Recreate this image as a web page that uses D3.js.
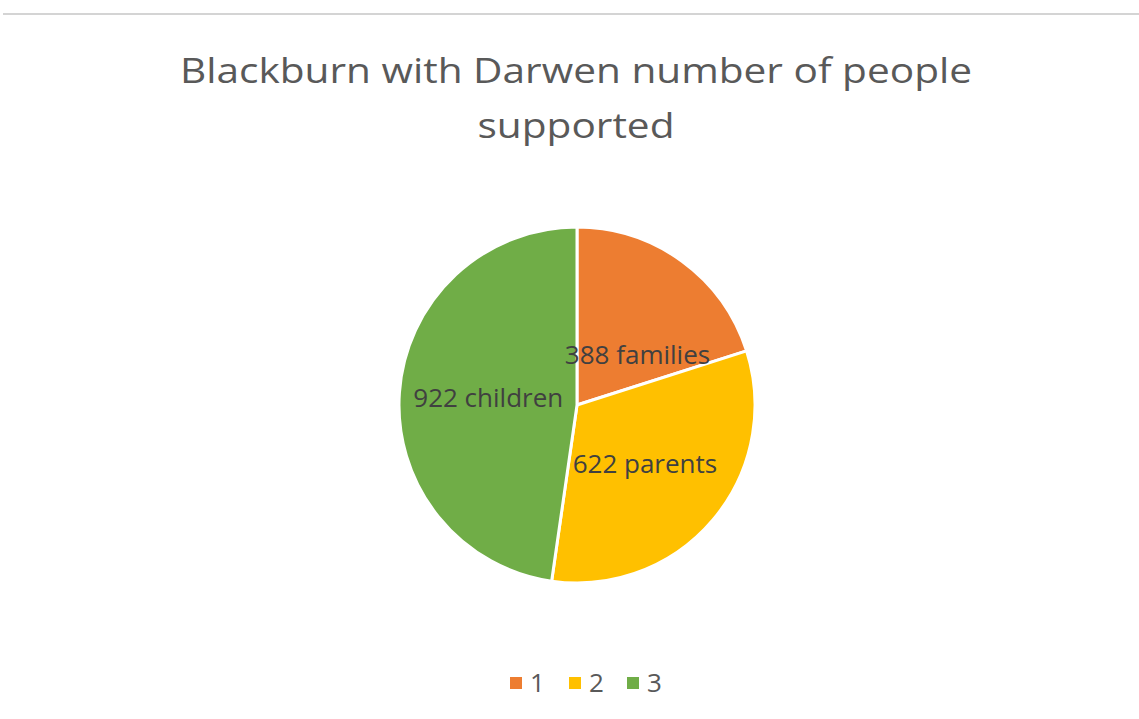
<!DOCTYPE html>
<html>
<head>
<meta charset="utf-8">
<script src="https://cdn.jsdelivr.net/npm/d3@7"></script>
<style>
  html, body { margin: 0; padding: 0; background: #fff; }
  svg { display: block; }
  text { font-family: "Open Sans", "Noto Sans", sans-serif; }
</style>
</head>
<body>
<svg id="chart" width="1139" height="719"></svg>
<script>
// Blackburn with Darwen: number of people supported
const titleLines = ["Blackburn with Darwen number of people", "supported"];
const categories = ["1", "2", "3"];
const values = [388, 622, 922];
const labels = ["388 families", "622 parents", "922 children"];
const colors = ["#ED7D31", "#FFC000", "#70AD47"];

const W = 1139, H = 719;
const svg = d3.select("#chart");

// thin rule across the top of the frame
svg.append("line")
  .attr("x1", 3).attr("x2", W).attr("y1", 14).attr("y2", 14)
  .attr("stroke", "#d4d4d4").attr("stroke-width", 2);

// title (set wide, as in the chart's original typeface)
const titleX = 576;
const title = svg.append("g")
  .attr("transform", `translate(${titleX},0) scale(1.16,1)`);
titleLines.forEach((t, i) => {
  title.append("text")
    .attr("x", 0).attr("y", 83 + i * 55)
    .attr("text-anchor", "middle")
    .attr("fill", "#595959")
    .attr("font-size", 35)
    .text(t);
});

// pie
const cx = 577, cy = 405, r = 178;
const pie = d3.pie().sort(null).value(d => d)(values);
const arc = d3.arc().innerRadius(0).outerRadius(r);
const labelArc = d3.arc().innerRadius(r * 0.5).outerRadius(r * 0.5);

const g = svg.append("g").attr("transform", `translate(${cx},${cy})`);
g.selectAll("path")
  .data(pie)
  .join("path")
  .attr("d", arc)
  .attr("fill", (d, i) => colors[i])
  .attr("stroke", "#fff")
  .attr("stroke-width", 3)
  .attr("stroke-linejoin", "round");

// data labels, nudged like best-fit placement
const nudges = [[8, 22], [0, 2], [0, 0]];
g.selectAll("text.lbl")
  .data(pie)
  .join("text")
  .attr("class", "lbl")
  .attr("transform", (d, i) => {
    const c = labelArc.centroid(d);
    return `translate(${c[0] + nudges[i][0]},${c[1] + nudges[i][1]}) scale(1.04,1)`;
  })
  .attr("text-anchor", "middle")
  .attr("dy", "0.35em")
  .attr("fill", "#404040")
  .attr("font-size", 25)
  .text((d, i) => labels[i]);

// legend
const legendX = [510, 569, 627];
const legend = svg.append("g");
categories.forEach((c, i) => {
  legend.append("rect")
    .attr("x", legendX[i]).attr("y", 677)
    .attr("width", 12).attr("height", 12)
    .attr("fill", colors[i]);
  legend.append("text")
    .attr("x", legendX[i] + 20).attr("y", 692)
    .attr("fill", "#595959")
    .attr("font-size", 26)
    .text(c);
});
</script>
</body>
</html>
